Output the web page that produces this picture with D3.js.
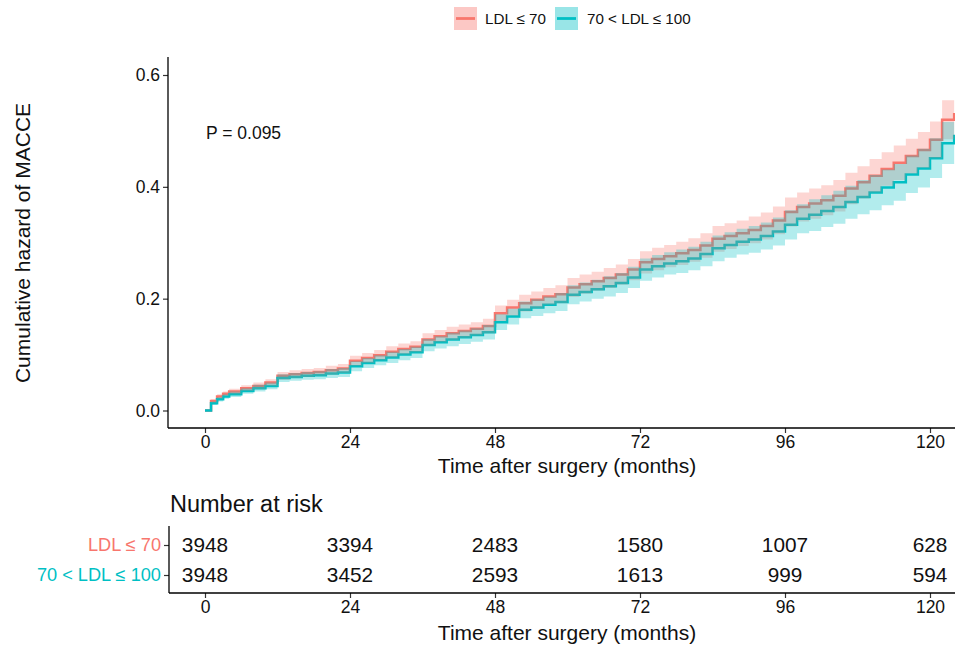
<!DOCTYPE html>
<html>
<head>
<meta charset="utf-8">
<script src="https://cdn.jsdelivr.net/npm/d3@7"></script>
<style>
  html, body { margin: 0; padding: 0; background: #fff; }
  svg { display: block; font-family: "Liberation Sans", Arial, Helvetica, sans-serif; }
</style>
</head>
<body>
<svg id="chart" width="955" height="647"></svg>
<script>
// ---------------- data ----------------
const groups = ["LDL \u2264 70", "70 < LDL \u2264 100"];
const groupColors = ["#F8766D", "#00BFC4"];
const pText = "P = 0.095";

const months = [0,1,2,3,4,6,8,10,12,14,16,18,20,22,24,26,28,30,32,34,36,38,40,42,44,46,48,50,52,54,56,58,60,62,64,66,68,70,72,74,76,78,80,82,84,86,88,90,92,94,96,98,100,102,104,106,108,110,112,114,116,118,120,122,124];

const hazLow70 = [0,0.017,0.025,0.030,0.034,0.040,0.044,0.050,0.062,0.065,0.067,0.069,0.072,0.075,0.089,0.094,0.099,0.105,0.110,0.114,0.127,0.133,0.138,0.142,0.146,0.151,0.174,0.184,0.192,0.198,0.204,0.208,0.220,0.226,0.231,0.237,0.243,0.252,0.265,0.271,0.276,0.281,0.287,0.295,0.307,0.312,0.317,0.323,0.330,0.340,0.355,0.364,0.370,0.376,0.384,0.397,0.408,0.420,0.432,0.443,0.455,0.466,0.484,0.520,0.532];
const upperLow70 = [0,0.020,0.029,0.034,0.039,0.045,0.050,0.056,0.069,0.072,0.074,0.076,0.080,0.083,0.098,0.103,0.108,0.115,0.120,0.124,0.138,0.144,0.150,0.154,0.158,0.164,0.188,0.198,0.207,0.213,0.219,0.224,0.237,0.243,0.248,0.255,0.261,0.271,0.285,0.291,0.296,0.302,0.308,0.317,0.330,0.335,0.340,0.347,0.354,0.365,0.381,0.390,0.397,0.403,0.412,0.425,0.437,0.450,0.462,0.474,0.486,0.498,0.517,0.555,0.568];
const lowerLow70 = [0,0.014,0.021,0.026,0.029,0.035,0.038,0.044,0.055,0.058,0.060,0.062,0.064,0.067,0.080,0.085,0.090,0.095,0.100,0.104,0.116,0.122,0.126,0.130,0.134,0.138,0.160,0.170,0.177,0.183,0.189,0.192,0.203,0.209,0.214,0.219,0.225,0.233,0.245,0.251,0.256,0.260,0.266,0.273,0.284,0.289,0.294,0.299,0.306,0.315,0.329,0.338,0.343,0.349,0.356,0.369,0.379,0.390,0.402,0.412,0.424,0.434,0.451,0.485,0.496];

const hazMid = [0,0.013,0.020,0.025,0.029,0.035,0.040,0.044,0.058,0.060,0.062,0.063,0.066,0.068,0.079,0.085,0.090,0.095,0.100,0.104,0.117,0.122,0.127,0.131,0.135,0.140,0.158,0.168,0.180,0.184,0.189,0.194,0.207,0.212,0.217,0.222,0.228,0.238,0.252,0.258,0.263,0.267,0.272,0.280,0.290,0.296,0.302,0.306,0.312,0.320,0.332,0.343,0.350,0.357,0.364,0.373,0.382,0.390,0.399,0.408,0.422,0.433,0.451,0.478,0.493];
const upperMid = [0,0.016,0.024,0.029,0.034,0.040,0.046,0.050,0.065,0.067,0.069,0.070,0.074,0.076,0.088,0.094,0.099,0.105,0.110,0.114,0.128,0.133,0.139,0.143,0.147,0.153,0.172,0.182,0.195,0.199,0.204,0.210,0.224,0.229,0.234,0.240,0.246,0.257,0.272,0.278,0.283,0.288,0.293,0.302,0.313,0.319,0.325,0.330,0.336,0.345,0.358,0.369,0.378,0.385,0.393,0.402,0.412,0.421,0.431,0.441,0.456,0.468,0.487,0.516,0.532];
const lowerMid = [0,0.010,0.016,0.021,0.024,0.030,0.034,0.038,0.051,0.053,0.055,0.056,0.058,0.060,0.070,0.076,0.081,0.085,0.090,0.094,0.106,0.111,0.115,0.119,0.123,0.127,0.144,0.154,0.165,0.169,0.174,0.178,0.190,0.195,0.200,0.204,0.210,0.219,0.232,0.238,0.243,0.246,0.251,0.258,0.267,0.273,0.279,0.282,0.288,0.295,0.306,0.317,0.321,0.328,0.334,0.343,0.351,0.358,0.367,0.375,0.389,0.399,0.416,0.441,0.455];

const xTicks = [0,24,48,72,96,120];
const yTicks = [0.0,0.2,0.4,0.6];
const riskLow70 = [3948,3394,2483,1580,1007,628];
const riskMid = [3948,3452,2593,1613,999,594];

// ---------------- layout ----------------
const svg = d3.select("#chart");
const plotLeft = 168, plotRight = 955, plotTop = 57, plotBottom = 428;

const x = d3.scaleLinear().domain([0,120]).range([205,930]);
const y = d3.scaleLinear().domain([0,0.6]).range([410.5,75]);

const series = [
  {name: groups[0], color: groupColors[0], haz: hazLow70, lo: lowerLow70, hi: upperLow70},
  {name: groups[1], color: groupColors[1], haz: hazMid, lo: lowerMid, hi: upperMid}
];

const defs = svg.append("defs");
defs.append("clipPath").attr("id","clip")
  .append("rect").attr("x", plotLeft).attr("y", plotTop-5).attr("width", plotRight-plotLeft).attr("height", plotBottom-plotTop+5);

const plotG = svg.append("g").attr("clip-path","url(#clip)");

const line = d3.line().curve(d3.curveStepAfter).x(d => x(d.t)).y(d => y(d.v));
const area = d3.area().curve(d3.curveStepAfter).x(d => x(d.t)).y0(d => y(d.lo)).y1(d => y(d.hi));

// lines first, then confidence ribbons on top (as in the reference)
series.forEach(s => {
  const pts = months.map((t,i) => ({t, v: s.haz[i]}));
  plotG.append("path").datum(pts).attr("d", line)
    .attr("fill","none").attr("stroke", s.color).attr("stroke-width", 2.5);
});
series.forEach(s => {
  const pts = months.map((t,i) => ({t, lo: s.lo[i], hi: s.hi[i]}));
  plotG.append("path").datum(pts).attr("d", area)
    .attr("fill", s.color).attr("fill-opacity", 0.3).attr("stroke","none");
});

// axes (main)
const axisColor = "#000";
const tickFont = "17.5px";
const yAxis = d3.axisLeft(y).tickValues(yTicks).tickFormat(d3.format(".1f")).tickSize(5).tickPadding(3);
const yG = svg.append("g").attr("transform", `translate(${plotLeft},0)`).call(yAxis);
yG.select(".domain").remove();
svg.append("line").attr("x1", plotLeft).attr("x2", plotLeft).attr("y1", plotTop).attr("y2", plotBottom)
  .attr("stroke", axisColor).attr("stroke-width", 1.3);

const xAxis = d3.axisBottom(x).tickValues(xTicks).tickSize(5).tickPadding(3);
const xG = svg.append("g").attr("transform", `translate(0,${plotBottom})`).call(xAxis);
xG.select(".domain").remove();
svg.append("line").attr("x1", plotLeft).attr("x2", plotRight).attr("y1", plotBottom).attr("y2", plotBottom)
  .attr("stroke", axisColor).attr("stroke-width", 1.3);

[yG, xG].forEach(g => {
  g.selectAll(".tick line").attr("stroke", "#333").attr("stroke-width", 1.2);
  g.selectAll(".tick text").attr("fill", "#111").style("font-size", tickFont);
});

// axis titles
svg.append("text").attr("x", 567).attr("y", 473).attr("text-anchor","middle")
  .style("font-size","21px").attr("fill","#111").text("Time after surgery (months)");
svg.append("text").attr("transform", "translate(30,243) rotate(-90)").attr("text-anchor","middle")
  .style("font-size","21px").attr("fill","#111").text("Cumulative hazard of MACCE");

// p value
svg.append("text").attr("x", 206).attr("y", 139).style("font-size","17.5px").attr("fill","#111").text(pText);

// legend
const legend = svg.append("g");
const legendItems = [{x: 454, tx: 485}, {x: 555, tx: 587}];
series.forEach((s, i) => {
  const li = legendItems[i];
  legend.append("rect").attr("x", li.x).attr("y", 7).attr("width", 23).attr("height", 23)
    .attr("fill", s.color).attr("fill-opacity", 0.4);
  legend.append("line").attr("x1", li.x+2).attr("x2", li.x+21).attr("y1", 18.5).attr("y2", 18.5)
    .attr("stroke", s.color).attr("stroke-width", 2.8);
  legend.append("text").attr("x", li.tx).attr("y", 24).style("font-size","15.2px").attr("fill","#111").text(s.name);
});

// ---------------- risk table ----------------
svg.append("text").attr("x", 170).attr("y", 512).style("font-size","23.5px").attr("fill","#111").text("Number at risk");

const tableTop = 526, tableBottom = 593;
const yRow = d3.scalePoint().domain(groups).range([545, 575]);
const rowAxis = d3.axisLeft(yRow).tickSize(5).tickPadding(3);
const rowG = svg.append("g").attr("transform", `translate(${plotLeft+1},0)`).call(rowAxis);
rowG.select(".domain").remove();
rowG.selectAll(".tick line").attr("stroke","#333").attr("stroke-width",1.2);
rowG.selectAll(".tick text").style("font-size","18.2px")
  .attr("fill", (d,i) => groupColors[i]);
svg.append("line").attr("x1", plotLeft+1).attr("x2", plotLeft+1).attr("y1", tableTop).attr("y2", tableBottom)
  .attr("stroke", axisColor).attr("stroke-width", 1.3);

const xAxis2 = d3.axisBottom(x).tickValues(xTicks).tickSize(5).tickPadding(3);
const xG2 = svg.append("g").attr("transform", `translate(0,${tableBottom})`).call(xAxis2);
xG2.select(".domain").remove();
xG2.selectAll(".tick line").attr("stroke","#333").attr("stroke-width",1.2);
xG2.selectAll(".tick text").attr("fill","#111").style("font-size", tickFont);
svg.append("line").attr("x1", plotLeft+1).attr("x2", plotRight).attr("y1", tableBottom).attr("y2", tableBottom)
  .attr("stroke", axisColor).attr("stroke-width", 1.3);

[riskLow70, riskMid].forEach((arr, gi) => {
  svg.append("g").selectAll("text").data(arr).join("text")
    .attr("x", (d,i) => x(xTicks[i]))
    .attr("y", yRow(groups[gi]))
    .attr("dy", "0.36em")
    .attr("text-anchor","middle")
    .style("font-size","20.8px").attr("fill","#111")
    .text(d => d);
});

svg.append("text").attr("x", 567).attr("y", 640).attr("text-anchor","middle")
  .style("font-size","21px").attr("fill","#111").text("Time after surgery (months)");
</script>
</body>
</html>
